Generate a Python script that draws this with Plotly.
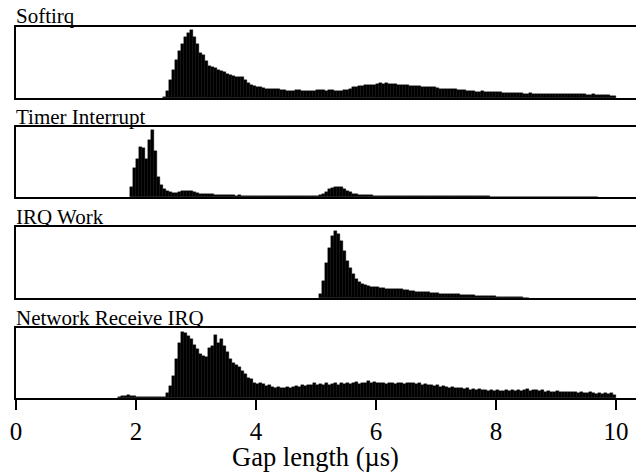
import numpy as np
import plotly.graph_objects as go

BIN_WIDTH = 0.05
panel_titles = ["Softirq", "Timer Interrupt", "IRQ Work", "Network Receive IRQ"]
x_tick_values = [0, 2, 4, 6, 8, 10]
x_tick_labels = ["0", "2", "4", "6", "8", "10"]
x_axis_title = "Gap length (µs)"

# Histogram heights (normalised to panel height), one value per 0.05 µs bin
softirq_start = 2.45
softirq_counts = [
    0.02, 0.10, 0.25, 0.40, 0.54, 0.66, 0.76, 0.86, 0.92, 0.96,
    0.86, 0.76, 0.64, 0.61, 0.52, 0.45, 0.43, 0.42, 0.40, 0.38,
    0.36, 0.34, 0.32, 0.31, 0.30, 0.30, 0.29, 0.25, 0.21, 0.19,
    0.17, 0.16, 0.15, 0.14, 0.13, 0.13, 0.12, 0.12, 0.12, 0.11,
    0.11, 0.10, 0.10, 0.10, 0.11, 0.11, 0.10, 0.10, 0.10, 0.10,
    0.10, 0.11, 0.11, 0.11, 0.10, 0.11, 0.11, 0.10, 0.10, 0.10,
    0.11, 0.11, 0.13, 0.15, 0.16, 0.17, 0.17, 0.18, 0.18, 0.19,
    0.19, 0.20, 0.21, 0.20, 0.21, 0.20, 0.20, 0.20, 0.19, 0.19,
    0.19, 0.18, 0.17, 0.17, 0.17, 0.17, 0.16, 0.16, 0.16, 0.15,
    0.15, 0.14, 0.13, 0.13, 0.12, 0.12, 0.12, 0.12, 0.11, 0.11,
    0.11, 0.10, 0.10, 0.10, 0.09, 0.09, 0.10, 0.09, 0.09, 0.08,
    0.08, 0.08, 0.08, 0.07, 0.07, 0.07, 0.07, 0.07, 0.07, 0.07,
    0.06, 0.06, 0.07, 0.06, 0.06, 0.06, 0.06, 0.06, 0.06, 0.06,
    0.06, 0.05, 0.05, 0.06, 0.05, 0.05, 0.05, 0.05, 0.05, 0.05,
    0.05, 0.04, 0.04, 0.05, 0.04, 0.04, 0.04, 0.04, 0.04, 0.03,
    0.03,
]

timer_start = 1.90
timer_counts = [
    0.15, 0.42, 0.55, 0.72, 0.70, 0.55, 0.82, 0.96, 0.66, 0.28,
    0.17, 0.11, 0.08, 0.07, 0.06, 0.06, 0.07, 0.08, 0.09, 0.09,
    0.08, 0.07, 0.06, 0.05, 0.05, 0.04, 0.04, 0.04, 0.03, 0.03,
    0.03, 0.03, 0.03, 0.03, 0.03, 0.02, 0.03, 0.02, 0.02, 0.02,
    0.02, 0.02, 0.02, 0.02, 0.02, 0.02, 0.02, 0.02, 0.02, 0.02,
    0.02, 0.02, 0.02, 0.02, 0.02, 0.02, 0.02, 0.02, 0.02, 0.02,
    0.02, 0.02, 0.02, 0.03, 0.04, 0.07, 0.11, 0.13, 0.15, 0.15,
    0.14, 0.12, 0.09, 0.07, 0.05, 0.04, 0.035, 0.03, 0.03, 0.025,
    0.025, 0.02, 0.02, 0.02, 0.02, 0.02, 0.02, 0.02, 0.02, 0.02,
    0.02, 0.02, 0.015, 0.015, 0.015, 0.015, 0.015, 0.015, 0.015, 0.015,
    0.015, 0.015, 0.01, 0.01, 0.01, 0.01, 0.01, 0.01, 0.01, 0.01,
    0.01, 0.01, 0.008, 0.008, 0.008, 0.008, 0.008, 0.008, 0.008, 0.008,
    0.006, 0.006, 0.006, 0.006, 0.006, 0.006, 0.006, 0.006, 0.006, 0.006,
    0.005, 0.005, 0.005, 0.005, 0.005, 0.005, 0.005, 0.005, 0.005, 0.005,
    0.005, 0.005, 0.005, 0.005, 0.005, 0.005, 0.005, 0.005, 0.005, 0.005,
    0.005, 0.005, 0.005, 0.005, 0.005, 0.005,
]

irq_work_start = 5.05
irq_work_counts = [
    0.05, 0.24, 0.50, 0.70, 0.88, 0.95, 0.90, 0.80, 0.66, 0.52,
    0.42, 0.34, 0.27, 0.23, 0.20, 0.18, 0.17, 0.16, 0.15, 0.15,
    0.14, 0.14, 0.13, 0.13, 0.12, 0.12, 0.12, 0.12, 0.11, 0.11,
    0.10, 0.10, 0.09, 0.09, 0.09, 0.08, 0.08, 0.07, 0.07, 0.07,
    0.06, 0.06, 0.06, 0.05, 0.05, 0.05, 0.05, 0.04, 0.04, 0.04,
    0.04, 0.04, 0.03, 0.03, 0.03, 0.03, 0.03, 0.03, 0.03, 0.02,
    0.02, 0.02, 0.015, 0.012, 0.01, 0.01, 0.008, 0.008, 0.006, 0.006,
]

network_start = 1.70
network_counts = [
    0.02, 0.03, 0.03, 0.04, 0.03, 0.03, 0.02, 0.02, 0.01, 0.01,
    0.01, 0.01, 0.01, 0.01, 0.01, 0.02, 0.07, 0.17, 0.32, 0.56,
    0.78, 0.94, 0.93, 0.88, 0.84, 0.76, 0.70, 0.63, 0.60, 0.58,
    0.71, 0.74, 0.90, 0.79, 0.85, 0.74, 0.66, 0.56, 0.50, 0.47,
    0.44, 0.38, 0.35, 0.29, 0.27, 0.21, 0.20, 0.22, 0.20, 0.17,
    0.18, 0.16, 0.15, 0.16, 0.15, 0.15, 0.16, 0.15, 0.16, 0.17,
    0.16, 0.18, 0.17, 0.19, 0.18, 0.21, 0.19, 0.20, 0.18, 0.21,
    0.19, 0.20, 0.22, 0.19, 0.21, 0.20, 0.22, 0.20, 0.21, 0.23,
    0.20, 0.22, 0.21, 0.24, 0.21, 0.23, 0.22, 0.21, 0.22, 0.20,
    0.22, 0.21, 0.20, 0.22, 0.21, 0.20, 0.22, 0.21, 0.21, 0.20,
    0.21, 0.19, 0.20, 0.18, 0.19, 0.17, 0.18, 0.16, 0.17, 0.16,
    0.15, 0.16, 0.14, 0.15, 0.14, 0.13, 0.14, 0.12, 0.13, 0.12,
    0.13, 0.11, 0.12, 0.10, 0.11, 0.10, 0.11, 0.10, 0.10, 0.11,
    0.10, 0.11, 0.10, 0.12, 0.10, 0.11, 0.13, 0.10, 0.12, 0.11,
    0.10, 0.11, 0.09, 0.10, 0.09, 0.09, 0.10, 0.08, 0.09, 0.08,
    0.09, 0.08, 0.08, 0.07, 0.08, 0.07, 0.07, 0.08, 0.07, 0.06,
    0.07, 0.06, 0.07, 0.06, 0.07, 0.05,
]

panels = [
    (softirq_start, softirq_counts),
    (timer_start, timer_counts),
    (irq_work_start, irq_work_counts),
    (network_start, network_counts),
]

# pixel layout (page body has an 8px margin, so the figure is offset by 8px)
OFF = 8
W, H = 644 - OFF, 475 - OFF
panel_px = [(27, 98), (127, 197), (227, 298), (328, 398)]
top_px = panel_px[0][0]
bottom_px = panel_px[-1][1]
plot_h = bottom_px - top_px

FONT = "Liberation Serif"
fig = go.Figure()

for i, (start, counts) in enumerate(panels):
    n = len(counts)
    centers = start + BIN_WIDTH * (np.arange(n) + 0.5)
    axn = "" if i == 0 else str(i + 1)
    fig.add_trace(go.Bar(
        x=centers, y=counts, width=BIN_WIDTH,
        marker=dict(color="black", line=dict(color="black", width=0.4)),
        xaxis="x" + axn, yaxis="y" + axn, showlegend=False,
        hoverinfo="skip",
    ))
    t, b = panel_px[i]
    dom = [(bottom_px - b) / plot_h, (bottom_px - t) / plot_h]
    last = i == 3
    xa = dict(
        range=[0, 10.467], domain=[0, 1], anchor="y" + axn,
        showline=True, linecolor="black", linewidth=2, mirror=True,
        showgrid=False, zeroline=False,
        ticks="outside" if last else "", ticklen=10, tickwidth=2, tickcolor="black",
        showticklabels=last,
        tickvals=x_tick_values, ticktext=x_tick_labels,
        tickfont=dict(family=FONT, size=25, color="black"),
    )
    ya = dict(
        range=[0, 1], domain=dom, anchor="x" + axn,
        showline=True, linecolor="black", linewidth=2, mirror=False,
        showgrid=False, zeroline=False, showticklabels=False, ticks="",
        fixedrange=True,
    )
    if i > 0:
        xa["matches"] = "x"
    fig.layout["xaxis" + axn] = xa
    fig.layout["yaxis" + axn] = ya
    fig.add_annotation(
        text=panel_titles[i], xref="paper", yref="paper",
        x=0, y=dom[1], xanchor="left", yanchor="bottom", yshift=-3.5, xshift=-2,
        showarrow=False, font=dict(family=FONT, size=21, color="black"),
    )

fig.add_annotation(
    text=x_axis_title, xref="x4", yref="paper", x=5.0, y=0,
    xanchor="center", yanchor="middle", yshift=-59,
    showarrow=False, font=dict(family=FONT, size=26.5, color="black"),
)

fig.update_layout(
    width=W, height=H,
    margin=dict(l=16 - OFF, r=0, t=top_px - OFF, b=H - (bottom_px - OFF), pad=0),
    paper_bgcolor="white", plot_bgcolor="white",
    bargap=0,
)

fig.write_html("out.html")
